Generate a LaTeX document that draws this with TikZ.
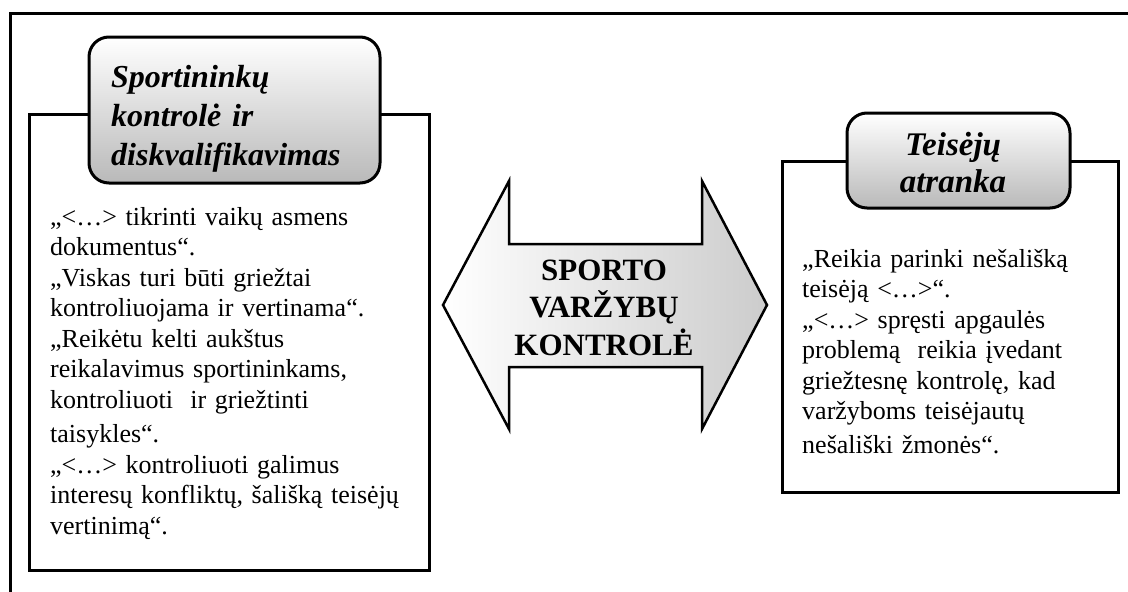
\documentclass[tikz,border=0pt]{standalone}
\usepackage{fontspec}
\setmainfont{Liberation Serif}
\begin{document}
\begin{tikzpicture}[x=1pt,y=-1pt,
  frame/.style={line width=3pt},
  panel/.style={draw,line width=3pt,fill=white,inner sep=0pt},
  titlebox/.style={draw,line width=3pt,rounded corners=20pt,top color=white,bottom color=gray!55,inner sep=0pt},
  titletext/.style={inner sep=0pt,font=\fontsize{32}{39}\selectfont\bfseries\itshape},
  bodytext/.style={inner sep=0pt,anchor=base west,align=left,font=\fontsize{26}{30.5}\selectfont},
  arrowshape/.style={line width=2.5pt,line join=miter},
  centertext/.style={inner sep=0pt,align=center,font=\fontsize{31}{37.5}\selectfont\bfseries}]
\useasboundingbox (0,0) rectangle (1128,592);
% outer frame
\coordinate (fb) at (10,592);
\coordinate (fc) at (10,13);
\coordinate (fr) at (1128,13);
\draw[frame] (fb) -- (fc) -- (fr);
% left panel
\node[panel,minimum width=400pt,minimum height=456pt] (lbox) at (229,342) {};
\node[titlebox,minimum width=291pt,minimum height=146pt] (ltitle) at (234.5,110) {};
\node[titletext,anchor=base west,align=left,text width=265pt] (lttext) at (111,87)
  {Sportininkų\\kontrolė ir\\diskvalifikavimas};
\node[bodytext,text width=380pt] (lbody) at (50,225)
  {„<…> tikrinti vaikų asmens\\
   dokumentus“.\\
   „Viskas turi būti griežtai\\
   kontroliuojama ir vertinama“.\\
   „Reikėtu kelti aukštus\\
   reikalavimus sportininkams,\\
   kontroliuoti\ \ ir griežtinti\\[4pt]
   taisykles“.\\
   „<…> kontroliuoti galimus\\
   interesų konfliktų, šališką teisėjų\\
   vertinimą“.};
% right panel
\node[panel,minimum width=336pt,minimum height=331pt] (rbox) at (950,326.5) {};
\node[titlebox,minimum width=223pt,minimum height=95pt] (rtitle) at (958.5,160.5) {};
\node[titletext,anchor=base,align=center,text width=200pt,font=\fontsize{33}{37}\selectfont\bfseries\itshape] (rttext) at (953,155)
  {Teisėjų\\atranka};
\node[bodytext,text width=310pt] (rbody) at (802,267)
  {„Reikia parinki nešališką\\
   teisėją <…>“.\\
   „<…> spręsti apgaulės\\
   problemą\ \ reikia įvedant\\
   griežtesnę kontrolę, kad\\
   varžyboms teisėjautų\\[3pt]
   nešališki žmonės“.};
% double arrow
\shade[left color=white,right color=gray!40,arrowshape]
  (443,305) -- (509,181) -- (509,244) -- (702,244) -- (702,181) -- (767,305)
  -- (702,429) -- (702,367) -- (509,367) -- (509,429) -- cycle;
\draw[arrowshape]
  (443,305) -- (509,181) -- (509,244) -- (702,244) -- (702,181) -- (767,305)
  -- (702,429) -- (702,367) -- (509,367) -- (509,429) -- cycle;
\node[centertext,anchor=base,text width=200pt] (ctext) at (604,280) {SPORTO\\VARŽYBŲ\\KONTROLĖ};
\end{tikzpicture}
\end{document}
